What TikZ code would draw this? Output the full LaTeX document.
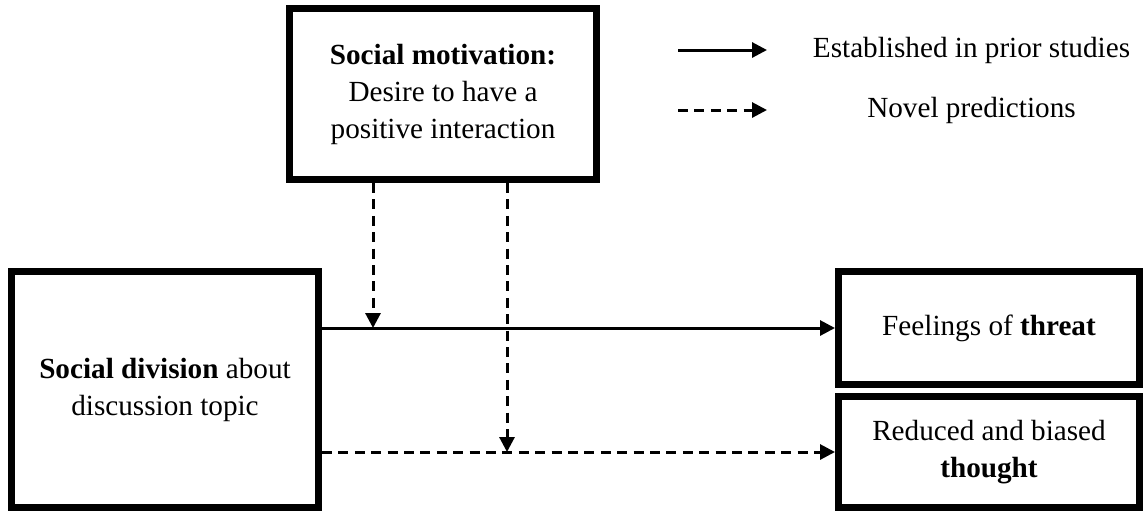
\documentclass[tikz,border=0pt]{standalone}
\usepackage{fontspec}
\setmainfont{Liberation Serif}
\usetikzlibrary{arrows.meta}

\begin{document}
\begin{tikzpicture}[x=0.5pt,y=-0.5pt,
    box/.style={draw,line width=3.5pt,inner sep=0pt,align=center,
      font=\fontsize{14.6}{18.5}\selectfont},
    txt/.style={inner sep=0pt,font=\fontsize{14.6}{18.5}\selectfont},
    link/.style={line width=1.5pt,-{Triangle[length=7.5pt,width=7.5pt]}},
    novel/.style={link,dash pattern=on 5pt off 3.2pt}]
  \useasboundingbox (0,0) rectangle (1143,511);
  % boxes
  \node[box,minimum width=153.5pt,minimum height=85.5pt] (motiv) at (443,94)
    {\textbf{Social motivation:}\\Desire to have a\\positive interaction};
  \node[box,minimum width=153.5pt,minimum height=118pt] (division) at (165,389.5)
    {\textbf{Social division} about\\discussion topic};
  \node[box,minimum width=150.5pt,minimum height=56.5pt] (threat) at (989,328)
    {Feelings of \textbf{threat}};
  \node[box,minimum width=150.5pt,minimum height=55.5pt] (thought) at (989,452)
    {Reduced and biased\\\textbf{thought}};
  % paths
  \draw[link] (threat.west -| division.east) -- (threat.west);
  \draw[novel] (thought.west -| division.east) -- (thought.west);
  \coordinate (m1) at (373,328);
  \coordinate (m2) at (507,452);
  \draw[novel] (motiv.south -| m1) -- (m1);
  \draw[novel] (motiv.south -| m2) -- (m2);
  % legend
  \coordinate (solA) at (678,50);
  \coordinate (solB) at (767,50);
  \coordinate (dashA) at (678,110);
  \coordinate (dashB) at (767,110);
  \draw[link] (solA) -- (solB);
  \draw[novel] (dashA) -- (dashB);
  \node[txt] (estab) at (971.5,50) {Established in prior studies};
  \node[txt] (pred) at (971.5,110) {Novel predictions};
\end{tikzpicture}
\end{document}
